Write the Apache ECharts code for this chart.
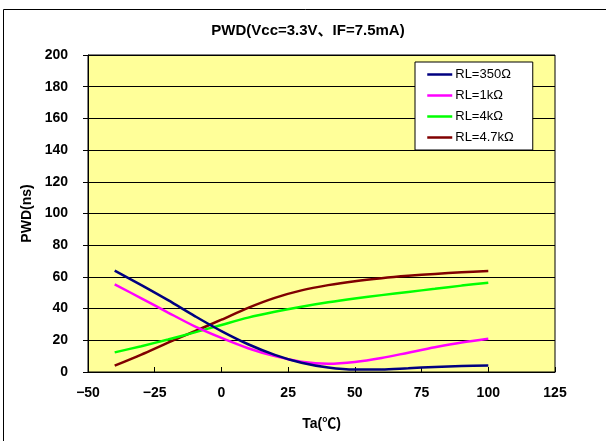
<!DOCTYPE html>
<html>
<head>
<meta charset="utf-8">
<script src="https://cdn.jsdelivr.net/npm/echarts@6/dist/echarts.min.js"></script>
<style>html,body{margin:0;padding:0;background:#fff;}#c{width:606px;height:441px;}</style>
</head>
<body>
<div id="c"></div>
<script>
var temps = [-40, -30, -20, -10, 0, 10, 20, 30, 40, 50, 60, 70, 80, 90, 100];
var rl350 = [64, 54.8, 45.3, 35.3, 25.8, 17.5, 10.8, 5.8, 2.8, 1.5, 1.6, 2.4, 3.2, 3.8, 4.1];
var rl1k  = [55.3, 46.5, 37.5, 28.8, 21.5, 15, 10, 6.5, 5.2, 6.3, 8.8, 12.2, 15.6, 18.6, 21];
var rl4k  = [12.4, 16.3, 20.5, 25, 29.7, 34.3, 38, 41.2, 44, 46.4, 48.5, 50.5, 52.5, 54.5, 56.3];
var rl47k = [4, 11, 18.5, 25.7, 33, 40.5, 46.8, 51.5, 54.8, 57.3, 59.2, 60.7, 61.9, 62.9, 63.7];
var names = ['RL=350Ω', 'RL=1kΩ', 'RL=4kΩ', 'RL=4.7kΩ'];
var colors = ['#000080', '#FF00FF', '#00FF00', '#800000'];
var xTicks = [-50, 125, 25];
var yTicks = [0, 200, 20];

function pairs(v) { return temps.map(function (t, i) { return [t, v[i]]; }); }
var FF = 'Liberation Sans, Arial, Noto Sans CJK JP, sans-serif';
var chart = echarts.init(document.getElementById('c'), null, {renderer: 'canvas'});
var series = [rl350, rl1k, rl4k, rl47k].map(function (v, i) {
  return {
    name: names[i], type: 'line', data: pairs(v), smooth: 0.3, symbol: 'none',
    lineStyle: {color: colors[i], width: 2.5}, itemStyle: {color: colors[i]},
    z: 10 - i, animation: false
  };
});
chart.setOption({
  animation: false,
  backgroundColor: '#fff',
  title: {
    text: 'PWD(Vcc=3.3V、IF=7.5mA)', left: 303, top: 18, textAlign: 'center',
    textStyle: {fontFamily: FF, fontSize: 15, fontWeight: 'bold', color: '#000'}
  },
  legend: {
    orient: 'vertical', left: 415, top: 62, itemWidth: 25, itemHeight: 14, itemGap: 8,
    padding: [6, 19, 6, 11], backgroundColor: '#fff', borderColor: '#000', borderWidth: 1,
    borderRadius: 0,
    itemStyle: {opacity: 0},
    lineStyle: {width: 2.5},
    textStyle: {fontFamily: FF, fontSize: 13, color: '#000', padding: [0, 0, 0, -2]},
    data: names
  },
  grid: {left: 88, top: 55, right: 51, bottom: 69, show: true, backgroundColor: '#FFFF99',
    borderColor: '#000', borderWidth: 1},
  xAxis: {
    type: 'value', min: xTicks[0], max: xTicks[1], interval: xTicks[2],
    name: 'Ta(℃)', nameLocation: 'middle', nameGap: 45,
    nameTextStyle: {fontFamily: FF, fontSize: 14, fontWeight: 'bold', color: '#000'},
    axisLine: {show: true, onZero: false, lineStyle: {color: '#000', width: 1}},
    axisTick: {show: true, inside: true, length: 5, lineStyle: {color: '#000'}},
    axisLabel: {fontFamily: FF, fontSize: 14, fontWeight: 'bold', color: '#000', margin: 14,
      formatter: function (v) { return v < 0 ? '\u2212' + (-v) : String(v); }},
    splitLine: {show: false}
  },
  yAxis: {
    type: 'value', min: yTicks[0], max: yTicks[1], interval: yTicks[2],
    name: 'PWD(ns)', nameLocation: 'middle', nameGap: 52, nameRotate: 90,
    nameTextStyle: {fontFamily: FF, fontSize: 14, fontWeight: 'bold', color: '#000'},
    axisLine: {show: true, onZero: false, lineStyle: {color: '#000', width: 1}},
    axisTick: {show: true, inside: false, length: 5, lineStyle: {color: '#000'}},
    axisLabel: {fontFamily: FF, fontSize: 14, fontWeight: 'bold', color: '#000', margin: 20},
    splitLine: {show: true, lineStyle: {color: '#000', width: 1}}
  },
  graphic: [{
    type: 'polyline', shape: {points: [[3.5, 445], [3.5, 9.5], [610, 9.5]]},
    style: {stroke: '#000', lineWidth: 1, fill: null}, silent: true
  }],
  series: series
});
</script>
</body>
</html>
